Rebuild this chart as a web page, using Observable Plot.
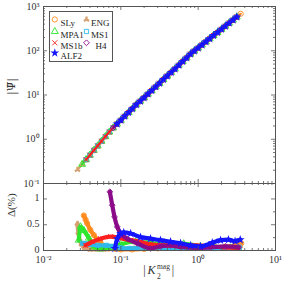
<!DOCTYPE html>
<html><head><meta charset="utf-8">
<script src="https://cdn.jsdelivr.net/npm/d3@7"></script>
<script src="https://cdn.jsdelivr.net/npm/@observablehq/plot@0.6"></script>
<style>
body{margin:0;background:#fff;}
#chart{position:relative;width:284px;height:283px;font-family:"Liberation Serif",serif;background:#fff;}
#chart svg{position:absolute;left:0;}
#legend{position:absolute;left:49px;top:11px;width:62px;height:49px;border:1px solid #555;background:#fff;}
</style></head><body><div id="chart"><div id="legend"></div></div>
<script>
// ---- data ----
const eosNames = ["SLy","ENG","MPA1","MS1","MS1b","H4","ALF2"];

// common universal curve |Psi| vs |K2^mag| (top panel)
const curveK = [0.0275,0.0316,0.0355,0.0398,0.0447,0.0501,0.0562,0.0631,0.0708,0.0794,0.0891,0.1,0.112,0.126,0.141,0.158,0.178,0.2,0.224,0.251,0.282,0.316,0.355,0.398,0.447,0.501,0.562,0.631,0.708,0.794,0.891,1.0,1.12,1.26,1.41,1.58,1.78,2.0,2.24,2.51,2.82,3.16,3.55];
const curvePsi = [0.204,0.272,0.347,0.437,0.562,0.708,0.902,1.15,1.46,1.81,2.21,2.69,3.31,4.03,4.90,6.03,7.24,8.71,10.5,12.6,15.3,18.4,22.4,26.9,32.4,38.9,47.3,57.5,69.2,84.1,98.9,116,136,160,188,221,260,305,359,422,495,582,684];

// relative error Delta(%) per EOS (bottom panel)
const slyK  = [0.0332,0.035,0.0366,0.0403,0.0448,0.0502,0.0546,0.06,0.07,0.085,0.1,0.14,0.2,0.3,0.4,0.55,0.7,1.0,1.5,2.2,3.0,3.6];
const slyD  = [0.68,0.60,0.53,0.40,0.30,0.20,0.15,0.08,0.04,0.03,0.02,0.02,0.03,0.04,0.05,0.05,0.06,0.05,0.05,0.07,0.10,0.14];
const engK  = [0.0275,0.0282,0.0292,0.031,0.034,0.04,0.05,0.06,0.08,0.1,0.15,0.2,0.3,0.4,0.6,0.8,1.1,1.5,2.0,2.5,3.5];
const engD  = [0.52,0.35,0.22,0.12,0.05,0.02,0.02,0.02,0.03,0.03,0.04,0.04,0.05,0.05,0.04,0.04,0.05,0.05,0.06,0.06,0.08];
const mpaK  = [0.0286,0.0301,0.0332,0.0386,0.0448,0.0546,0.0737,0.0992,0.155,0.242,0.38,0.65,1.07,1.67,2.6,3.3];
const mpaD  = [0.20,0.46,0.39,0.24,0.07,0.03,0.05,0.12,0.17,0.15,0.12,0.13,0.08,0.06,0.05,0.04];
const ms1K  = [0.032,0.036,0.04,0.05,0.065,0.08,0.1,0.13,0.2,0.35,0.6,1.0,1.6,2.5,3.4];
const ms1D  = [0.14,0.13,0.12,0.10,0.10,0.08,0.05,0.04,0.06,0.05,0.04,0.05,0.04,0.05,0.06];
const ms1bK = [0.0349,0.043,0.0546,0.0737,0.099,0.134,0.18,0.24,0.38,0.59,0.92,1.44,2.25,3.3];
const ms1bD = [0.10,0.17,0.23,0.27,0.24,0.20,0.17,0.12,0.10,0.08,0.10,0.08,0.06,0.05];
const h4K   = [0.0721,0.0774,0.0829,0.0898,0.0991,0.121,0.163,0.242,0.326,0.44,0.592,0.925,1.45,2.26,3.33];
const h4D   = [1.14,0.88,0.65,0.46,0.33,0.23,0.14,0.04,0.08,0.10,0.07,0.05,0.06,0.08,0.06];
const alfK  = [0.0836,0.0898,0.0991,0.109,0.134,0.18,0.242,0.326,0.44,0.592,0.8,1.07,1.52,1.95,2.46,3.0,3.5];
const alfD  = [0.04,0.23,0.33,0.35,0.33,0.26,0.23,0.20,0.17,0.14,0.10,0.08,0.15,0.20,0.21,0.18,0.21];

const xTickVals = [0.01,0.1,1,10];
const xTickLabels = ["10⁻²","10⁻¹","10⁰","10¹"];
const yTopTickVals = [0.1,1,10,100,1000];
const yTopTickLabels = ["10⁻¹","10⁰","10¹","10²","10³"];
const yBotTickVals = [0,0.5,1];
const yBotTickLabels = ["0","0.5","1"];

// ---- styling ----
const sets = [[slyK,slyD],[engK,engD],[mpaK,mpaD],[ms1K,ms1D],[ms1bK,ms1bD],[h4K,h4D],[alfK,alfD]];
const style = {
  SLy:  {color:"#ff8a1c", symbol:"circle",   fill:false, r:2.6},
  ENG:  {color:"#d6a070", symbol:"wye",      fill:true,  r:2.4, rotate:180},
  MPA1: {color:"#2ee62e", symbol:"triangle", fill:false, r:2.6},
  MS1:  {color:"#2fb8ec", symbol:"square",   fill:false, r:2.4},
  MS1b: {color:"#ff1f1f", symbol:"times",    fill:false, r:2.4},
  H4:   {color:"#8a0a8a", symbol:"diamond2", fill:false, r:2.6},
  ALF2: {color:"#1515ff", symbol:"star",     fill:true,  r:2.8}
};
const FONT = "Liberation Serif";
const AX = "#555";
const W = 284, ML = 43, MR = 9;
const FW = W - ML - MR;

const topRows = [], botRows = [];
eosNames.forEach((name, i) => {
  const [ks, ds] = sets[i];
  ks.forEach((k, j) => botRows.push({eos: name, k, d: ds[j]}));
  const lo = d3.min(ks), hi = d3.max(ks);
  curveK.forEach((k, j) => { if (k >= lo * 0.999 && k <= hi * 1.001) topRows.push({eos: name, k, psi: curvePsi[j]}); });
});

function minorLog(decades) { const out = []; for (const d of decades) for (let m = 2; m <= 9; m++) out.push(m * d); return out; }
const xMinor = minorLog([0.01,0.1,1]);
const yTopMinor = minorLog([0.1,1,10,100]);
const yBotMinor = [0.25,0.75];

function tickMarks(xMaj, xMin, yMaj, yMin, H) {
  const c = {stroke: AX, strokeWidth: 0.8};
  return [
    Plot.tickY(yMaj, {y: d => d, insetRight: FW - 4, ...c}),
    Plot.tickY(yMaj, {y: d => d, insetLeft: FW - 4, ...c}),
    Plot.tickY(yMin, {y: d => d, insetRight: FW - 2, ...c}),
    Plot.tickY(yMin, {y: d => d, insetLeft: FW - 2, ...c}),
    Plot.tickX(xMaj, {x: d => d, insetTop: H - 4, ...c}),
    Plot.tickX(xMaj, {x: d => d, insetBottom: H - 4, ...c}),
    Plot.tickX(xMin, {x: d => d, insetTop: H - 2, ...c}),
    Plot.tickX(xMin, {x: d => d, insetBottom: H - 2, ...c})
  ];
}

function seriesMarks(rows, yKey, lineWidth) {
  return eosNames.flatMap(name => {
    const s = style[name];
    const data = rows.filter(r => r.eos === name);
    return [
      Plot.line(data, {x: "k", y: yKey, stroke: s.color, strokeWidth: lineWidth,
        strokeLinecap: "round", strokeLinejoin: "round", curve: "monotone-x"}),
      Plot.dot(data, {x: "k", y: yKey, symbol: () => s.symbol, r: s.r,
        stroke: s.fill ? "none" : s.color, fill: s.fill ? s.color : "none",
        strokeWidth: 0.9, rotate: s.rotate || 0})
    ];
  });
}

// ---- top panel ----
const topH = 183, topMT = 6;
const topPlot = Plot.plot({
  width: W, height: topH, marginTop: topMT, marginBottom: 0, marginLeft: ML, marginRight: MR,
  style: {background: "transparent", overflow: "visible", fontFamily: FONT},
  x: {type: "log", domain: [0.01, 10], axis: null},
  y: {type: "log", domain: [0.1, 1000], axis: null},
  symbol: {type: "identity"},
  marks: [
    ...seriesMarks(topRows, "psi", 2.2),
    Plot.axisY(yTopTickVals, {tickSize: 0, tickPadding: 4, fontSize: 10, fontFamily: FONT, fill: "#333",
      tickFormat: v => yTopTickLabels[yTopTickVals.indexOf(v)], label: null}),
    ...tickMarks(xTickVals, xMinor, yTopTickVals, yTopMinor, topH - topMT),
    Plot.frame({stroke: AX, strokeWidth: 1}),
    Plot.text(["|Ψ̄|"], {frameAnchor: "left", dx: -32, rotate: -90, fontSize: 11, fontFamily: "DejaVu Serif", fill: "#333"}),
    // legend entries
    ...eosNames.flatMap((name, i) => {
      const s = style[name];
      const col = i % 2, row = Math.floor(i / 2);
      const dxm = col === 0 ? 11.3 : 43;
      const dxt = col === 0 ? 17 : (name === "H4" ? 52 : 47.5);
      const dy = [13, 25, 36.3, 46.5][row];
      return [
        Plot.dot([name], {frameAnchor: "top-left", dx: dxm, dy, symbol: () => s.symbol, r: s.r,
          stroke: s.fill ? "none" : s.color, fill: s.fill ? s.color : "none", strokeWidth: 0.9, rotate: s.rotate || 0}),
        Plot.text([name], {frameAnchor: "top-left", dx: dxt, dy, text: d => d, textAnchor: "start",
          fontSize: 9, fontFamily: FONT, fill: "#222"})
      ];
    })
  ]
});
topPlot.style.top = "0px";

// ---- bottom panel ----
const botH = 100, botMB = 33;
const botPlot = Plot.plot({
  width: W, height: botH, marginTop: 0, marginBottom: botMB, marginLeft: ML, marginRight: MR,
  style: {background: "transparent", overflow: "visible", fontFamily: FONT},
  x: {type: "log", domain: [0.01, 10], axis: null},
  y: {domain: [0, 1.3], axis: null},
  symbol: {type: "identity"},
  marks: [
    ...seriesMarks(botRows, "d", 4.2),
    Plot.axisY(yBotTickVals, {tickSize: 0, tickPadding: 4, fontSize: 10, fontFamily: FONT, fill: "#333",
      tickFormat: v => yBotTickLabels[yBotTickVals.indexOf(v)], label: null, dy: -1}),
    Plot.axisX(xTickVals, {tickSize: 0, tickPadding: 5, fontSize: 10, fontFamily: FONT, fill: "#333",
      tickFormat: v => xTickLabels[xTickVals.indexOf(v)], label: null}),
    ...tickMarks(xTickVals, xMinor, yBotTickVals, yBotMinor, botH - botMB),
    Plot.frame({stroke: AX, strokeWidth: 1}),
    Plot.text(["Δ(%)"], {frameAnchor: "left", dx: -32, rotate: -90, fontSize: 11, fontFamily: FONT, fill: "#333"}),
    Plot.text(["|"], {frameAnchor: "bottom", dx: -15, dy: 23.5, fontSize: 12, fontFamily: FONT, fill: "#333"}),
    Plot.text(["K"], {frameAnchor: "bottom", dx: -12, dy: 23.5, textAnchor: "start", fontSize: 12, fontStyle: "italic", fontFamily: FONT, fill: "#333"}),
    Plot.text(["mag"], {frameAnchor: "bottom", dx: -2.5, dy: 18.5, textAnchor: "start", fontSize: 7.5, fontFamily: FONT, fill: "#333"}),
    Plot.text(["2"], {frameAnchor: "bottom", dx: -2.5, dy: 28, textAnchor: "start", fontSize: 7.5, fontFamily: FONT, fill: "#333"}),
    Plot.text(["|"], {frameAnchor: "bottom", dx: 13.5, dy: 23.5, fontSize: 12, fontFamily: FONT, fill: "#333"})
  ]
});
botPlot.style.top = "183px";

const chart = document.getElementById("chart");
chart.appendChild(topPlot);
chart.appendChild(botPlot);
</script></body></html>
